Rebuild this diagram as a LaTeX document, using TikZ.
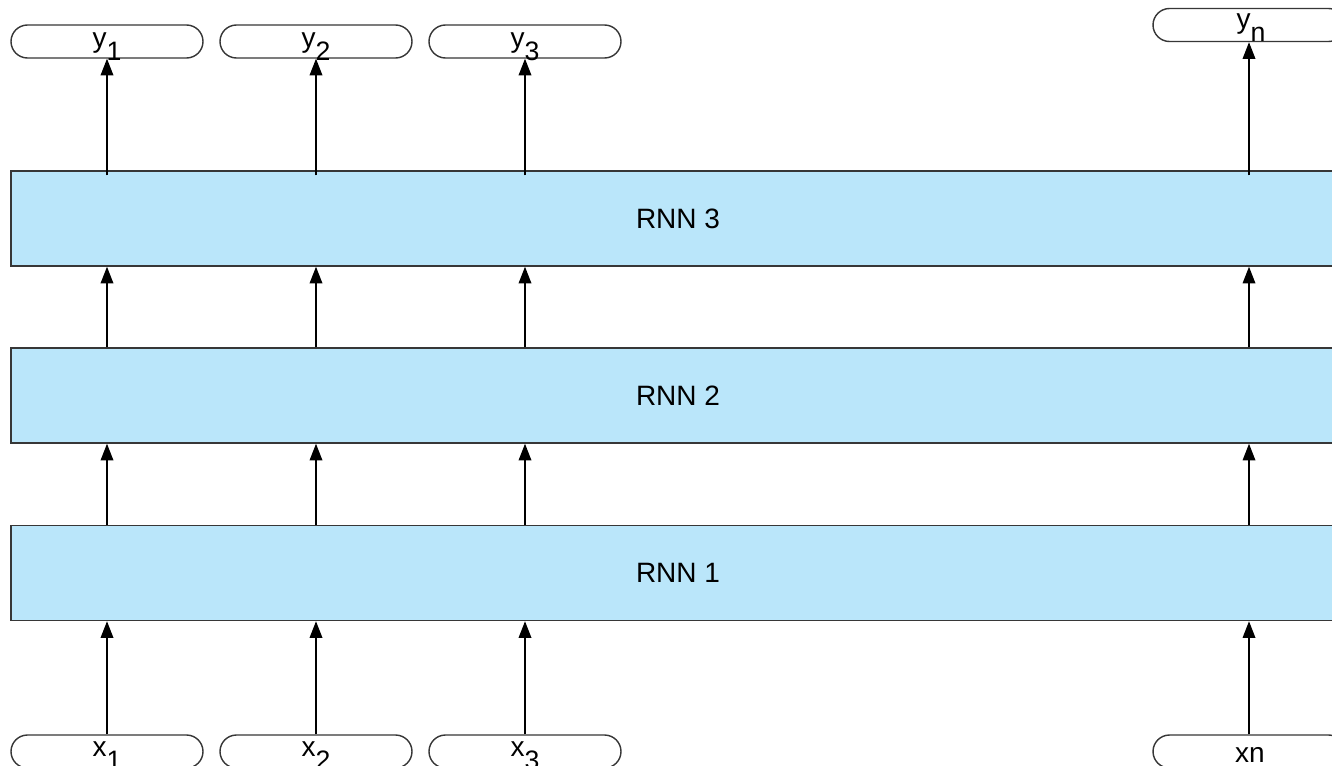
\documentclass[tikz,border=0pt]{standalone}
\usepackage{fontspec}
\setmainfont{Liberation Sans}
\usetikzlibrary{arrows.meta,shapes.misc}
\definecolor{layerfill}{RGB}{186,230,250}
\definecolor{edge}{RGB}{55,55,55}
\newcommand\lowsub[1]{\raisebox{-7.8pt}{\fontsize{16}{16}\selectfont #1}}
\begin{document}
\begin{tikzpicture}[x=0.6pt,y=-0.6pt,
  font=\fontsize{16.8}{19}\selectfont,
  layer/.style={draw=edge,line width=0.9pt,fill=layerfill,
    minimum width=800.4pt,minimum height=57pt,inner sep=0pt},
  pill/.style={draw=edge,line width=0.85pt,rounded rectangle,
    minimum width=115.2pt,minimum height=19.8pt,inner sep=0pt},
  lbl/.style={inner sep=0pt,anchor=base},
  arr/.style={line width=0.8pt,-{Triangle[length=10pt,width=7.6pt]}}]
\useasboundingbox[clip] (0,0) rectangle (1332,765);
\fill[white] (0,0) rectangle (1332,765);

% stacked recurrent layers
\node[layer] (r3) at (678,218.5) {RNN 3};
\node[layer] (r2) at (678,395.5) {RNN 2};
\node[layer] (r1) at (678,573) {RNN 1};

% output slots
\node[pill] (py1) at (107,41.5) {};
\node[pill] (py2) at (316,41.5) {};
\node[pill] (py3) at (525,41.5) {};
\node[pill] (pyn) at (1249,25) {};
\node[lbl] (ly1) at (107,47) {y\lowsub{1}};
\node[lbl] (ly2) at (316,47) {y\lowsub{2}};
\node[lbl] (ly3) at (525,47) {y\lowsub{3}};
\node[lbl] (lyn) at (1251,29) {y\lowsub{n}};

% input slots
\node[pill] (px1) at (107,751.5) {};
\node[pill] (px2) at (316,751.5) {};
\node[pill] (px3) at (525,751.5) {};
\node[pill] (pxn) at (1249,751.5) {};
\node[lbl] (lx1) at (107,756) {x\lowsub{1}};
\node[lbl] (lx2) at (316,756) {x\lowsub{2}};
\node[lbl] (lx3) at (525,756) {x\lowsub{3}};
\node[lbl] (lxn) at (1250,762) {xn};

% upward connections
\foreach \c in {1,2,3,n}{
  \draw[arr] (px\c.north) -- (px\c.north |- r1.south);
  \draw[arr] (px\c.north |- r1.north) -- (px\c.north |- r2.south);
  \draw[arr] (px\c.north |- r2.north) -- (px\c.north |- r3.south);
  \draw[arr] ([yshift=-3pt]py\c.south |- r3.north) -- (py\c.south);
}
\end{tikzpicture}
\end{document}
